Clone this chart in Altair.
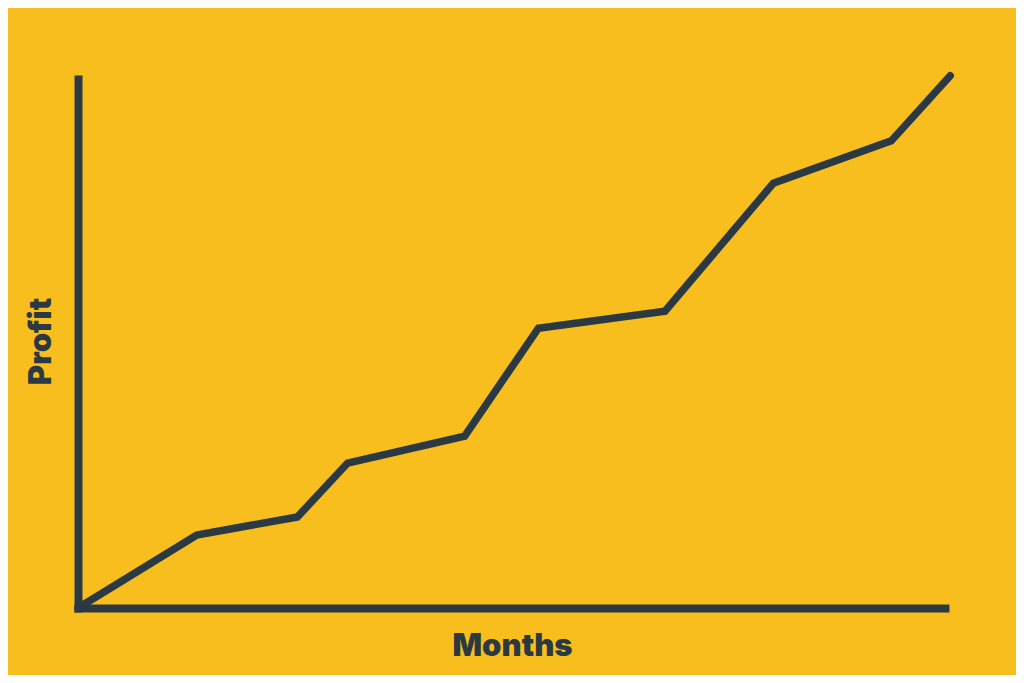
import altair as alt
import pandas as pd

months = [0, 13.7, 25.3, 31.1, 44.6, 53.1, 67.7, 80.2, 93.8, 100.6]
profit = [0, 13.8, 17.2, 27.4, 32.5, 52.9, 56.1, 80.3, 88.3, 100.6]

df = pd.DataFrame({"month": months, "profit": profit})

BG = "#F8BE1D"
DARK = "#2B3A42"
FONT = "Inter"

chart = alt.Chart(df).mark_line(
    color=DARK, strokeWidth=7.5, strokeCap="round", strokeJoin="miter", clip=False
).encode(
    x=alt.X("month:Q", scale=alt.Scale(domain=[0, 100], nice=False, zero=False),
            axis=alt.Axis(title="Months", grid=False, ticks=False, labels=False,
                          domainColor=DARK, domainWidth=8, domainCap="square",
                          titleFont=FONT, titleFontSize=31, titleFontWeight=900,
                          titleColor=DARK, titleBaseline="alphabetic",
                          titleX=434, titleY=47, titleAlign="center")),
    y=alt.Y("profit:Q", scale=alt.Scale(domain=[0, 100], nice=False, zero=False),
            axis=alt.Axis(title="Profit", grid=False, ticks=False, labels=False,
                          domainColor=DARK, domainWidth=8, domainCap="square",
                          titleFont=FONT, titleFontSize=31, titleFontWeight=900,
                          titleColor=DARK, titleBaseline="alphabetic",
                          titleAngle=270, titleX=-28, titleY=262, titleAlign="center")),
).properties(
    width=867, height=529,
    autosize=alt.AutoSizeParams(type="none"),
    padding={"left": 70, "top": 71, "right": 71, "bottom": 67},
    background=BG,
).configure_view(stroke=None)

chart.save("out.html", embed_options={"renderer": "svg", "actions": False})
